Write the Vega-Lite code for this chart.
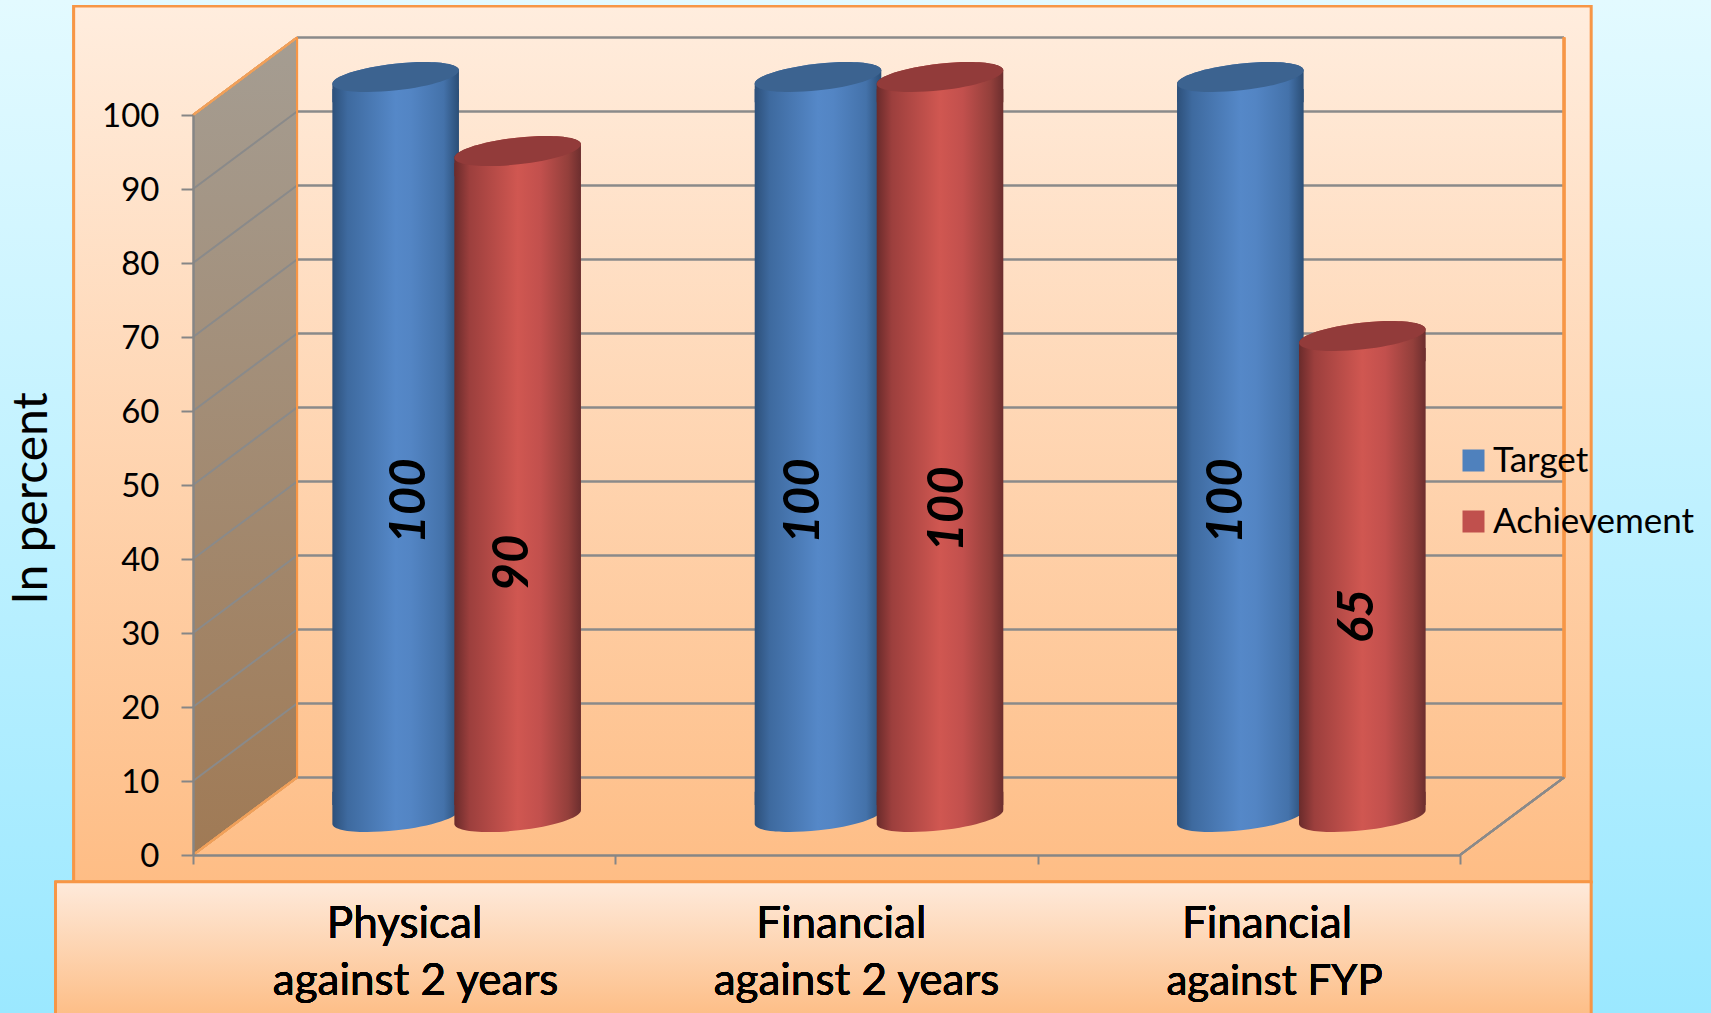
{
"$schema":"https://vega.github.io/schema/vega-lite/v6.json",
"autosize":"none",
"width":1267,"height":740,
"padding":{"left":193,"top":115,"right":251,"bottom":158},
"config":{"view":{"stroke":null},"font":"Lato","text":{"font":"Lato"}},
"datasets":{
"main":[
{"category":"Physical against 2 years","series":"Target","value":100},
{"category":"Physical against 2 years","series":"Achievement","value":90},
{"category":"Financial against 2 years","series":"Target","value":100},
{"category":"Financial against 2 years","series":"Achievement","value":100},
{"category":"Financial against FYP","series":"Target","value":100},
{"category":"Financial against FYP","series":"Achievement","value":65}
],
"levels":[{"level":0},{"level":10},{"level":20},{"level":30},{"level":40},{"level":50},{"level":60},{"level":70},{"level":80},{"level":90},{"level":100}],
"wall":[{"depth":0,"top":100,"bottom":0},{"depth":0.2463,"top":110.47,"bottom":10.47}]
},
"resolve":{"scale":{"x":"independent"},"axis":{"x":"independent"}},
"data":{"name":"main"},
"layer":[
{"layer":[
{"mark":{"type":"rect","fill":{"gradient":"linear","x1":0,"y1":0,"x2":0,"y2":1,"stops":[{"offset":0,"color":"#E3FAFF"},{"offset":1,"color":"#9BE8FF"}]}},
 "encoding":{
 "x":{"datum":-0.457,"type":"quantitative","scale":{"domain":[0,3],"nice":false,"zero":false},"axis":{"values":[0,1,2,3],"labels":false,"title":null,"grid":false,"domainColor":"#868686","domainWidth":2.5,"tickColor":"#868686","tickWidth":2,"tickSize":9,"zindex":1}},
 "x2":{"datum":3.594},
 "y":{"datum":115.54,"type":"quantitative","scale":{"domain":[0,100],"nice":false,"zero":false},"axis":{"values":[0,10,20,30,40,50,60,70,80,90,100],"grid":false,"title":"In percent","titleFont":"Lato","titleFontSize":48,"titleFontWeight":"normal","titleColor":"#000000","titleX":-161,"titleY":383,"titleAngle":270,"titleAlign":"center","titleBaseline":"middle","labelFont":"Lato","labelFontSize":33,"labelColor":"#000000","labelPadding":22,"labelOffset":1,"domainColor":"#868686","domainWidth":2.5,"tickColor":"#868686","tickWidth":2,"tickSize":12,"zindex":1}},
 "y2":{"datum":-21.35}}},
{"mark":{"type":"rect","stroke":"#F79646","strokeWidth":2.5,"fill":{"gradient":"linear","x1":0,"y1":0,"x2":0,"y2":1,"stops":[{"offset":0,"color":"#FFEDDE"},{"offset":1,"color":"#FEBD85"}]}},
 "encoding":{"x":{"datum":-0.282,"type":"quantitative"},"x2":{"datum":3.31},"y":{"datum":114.7,"type":"quantitative"},"y2":{"datum":-3.65}}},
{"mark":{"type":"rect","stroke":"#F79646","strokeWidth":2.5,"fill":{"gradient":"linear","x1":0,"y1":0,"x2":0,"y2":1,"stops":[{"offset":0,"color":"#FEEADB"},{"offset":1,"color":"#FDBE87"}]}},
 "encoding":{"x":{"datum":-0.325,"type":"quantitative"},"x2":{"datum":3.31},"y":{"datum":-3.65,"type":"quantitative"},"y2":{"datum":-21.6}}},
{"data":{"name":"wall"},"mark":{"type":"area","fill":{"gradient":"linear","x1":0,"y1":0,"x2":0,"y2":1,"stops":[{"offset":0,"color":"#A59D92"},{"offset":1,"color":"#A07A55"}]}},
 "encoding":{"x":{"field":"depth","type":"quantitative"},"y":{"field":"top","type":"quantitative"},"y2":{"field":"bottom"}}},
{"data":{"name":"levels"},"mark":{"type":"rule","stroke":"#8A8A8A","strokeWidth":2.5,"yOffset":-77.5},
 "encoding":{"x":{"datum":0.2463,"type":"quantitative"},"x2":{"datum":3.2463},"y":{"field":"level","type":"quantitative"}}},
{"data":{"name":"levels"},"mark":{"type":"rule","stroke":"#8A8A8A","strokeWidth":2,"y2Offset":-77.5},
 "encoding":{"x":{"datum":0,"type":"quantitative"},"x2":{"datum":0.2463},"y":{"field":"level","type":"quantitative"},"y2":{"field":"level"}}},
{"mark":{"type":"rule","stroke":"#F0A05A","strokeWidth":2},"encoding":{"x":{"datum":0,"type":"quantitative"},"x2":{"datum":0.2463},"y":{"datum":100,"type":"quantitative"},"y2":{"datum":110.47}}},
{"mark":{"type":"rule","stroke":"#F0A05A","strokeWidth":2},"encoding":{"x":{"datum":0,"type":"quantitative"},"x2":{"datum":0.2463},"y":{"datum":0,"type":"quantitative"},"y2":{"datum":10.47}}},
{"mark":{"type":"rule","stroke":"#F79646","strokeWidth":2},"encoding":{"x":{"datum":0.2463,"type":"quantitative"},"y":{"datum":10.47,"type":"quantitative"},"y2":{"datum":110.47}}},
{"mark":{"type":"rule","stroke":"#F79646","strokeWidth":2.5},"encoding":{"x":{"datum":3.2463,"type":"quantitative"},"y":{"datum":10.47,"type":"quantitative"},"y2":{"datum":110.47}}},
{"mark":{"type":"rule","stroke":"#8A8A8A","strokeWidth":2},"encoding":{"x":{"datum":3,"type":"quantitative"},"x2":{"datum":3.2463},"y":{"datum":0,"type":"quantitative"},"y2":{"datum":10.47}}},
{"mark":{"type":"text","font":"Lato","fontSize":44,"color":"#000000","baseline":"middle"},"encoding":{"x":{"datum":0.501,"type":"quantitative"},"y":{"datum":-9.4,"type":"quantitative"},"text":{"value":"Physical"}}},
{"mark":{"type":"text","font":"Lato","fontSize":44,"color":"#000000","baseline":"middle"},"encoding":{"x":{"datum":0.527,"type":"quantitative"},"y":{"datum":-17.2,"type":"quantitative"},"text":{"value":"against 2 years"}}},
{"mark":{"type":"text","font":"Lato","fontSize":44,"color":"#000000","baseline":"middle"},"encoding":{"x":{"datum":1.535,"type":"quantitative"},"y":{"datum":-9.4,"type":"quantitative"},"text":{"value":"Financial"}}},
{"mark":{"type":"text","font":"Lato","fontSize":44,"color":"#000000","baseline":"middle"},"encoding":{"x":{"datum":1.571,"type":"quantitative"},"y":{"datum":-17.2,"type":"quantitative"},"text":{"value":"against 2 years"}}},
{"mark":{"type":"text","font":"Lato","fontSize":44,"color":"#000000","baseline":"middle"},"encoding":{"x":{"datum":2.543,"type":"quantitative"},"y":{"datum":-9.4,"type":"quantitative"},"text":{"value":"Financial"}}},
{"mark":{"type":"text","font":"Lato","fontSize":42,"color":"#000000","baseline":"middle"},"encoding":{"x":{"datum":2.561,"type":"quantitative"},"y":{"datum":-17.2,"type":"quantitative"},"text":{"value":"against FYP"}}}
]},
{"layer":[
{"mark":{"type":"bar","width":10,"xOffset":-8,"yOffset":-38,"y2Offset":-38},
 "encoding":{"x":{"field":"category","type":"nominal","sort":null,"axis":null,"scale":{"domain":["Physical against 2 years","Financial against 2 years","Financial against FYP"],"paddingInner":0,"paddingOuter":0}},
 "y":{"field":"value","type":"quantitative"},"y2":{"datum":0},
 "fill":{"field":"series","type":"nominal","scale":{"domain":["Target","Achievement"],"range":["#4F81BD","#C0504D"]},
 "legend":{"orient":"none","legendX":1263,"legendY":328,"title":null,"symbolType":"square","symbolSize":484,"symbolStrokeWidth":0,"labelFont":"Lato","labelFontSize":35,"labelLimit":400,"labelColor":"#000000","labelOffset":2,"rowPadding":25}}}},
{"transform":[{"filter":"datum.series==='Target'"}],"layer":[
 {"mark":{"type":"bar","width":126.6,"xOffset":-8.5,"yOffset":-26,"y2Offset":-50,"fill":{"gradient":"linear","x1":0,"y1":0,"x2":1,"y2":0,"stops":[{"offset":0,"color":"#2D507A"},{"offset":0.12,"color":"#3E6A9F"},{"offset":0.5,"color":"#5588C8"},{"offset":0.62,"color":"#5385C4"},{"offset":0.88,"color":"#4472AA"},{"offset":1,"color":"#2B4E76"}]}},
  "encoding":{"x":{"field":"category","type":"nominal","axis":null},"y":{"field":"value","type":"quantitative"},"y2":{"datum":0}}},
 {"mark":{"type":"point","filled":true,"opacity":1,"strokeWidth":0,"size":16027,"xOffset":-8.5,"yOffset":-38,"shape":"M -1 0.11 A 1 0.21 -6.4 0 1 1 -0.11 L 1 0.4 L -1 0.4 Z","fill":{"gradient":"linear","x1":0,"y1":0,"x2":1,"y2":0,"stops":[{"offset":0,"color":"#2D507A"},{"offset":0.12,"color":"#3E6A9F"},{"offset":0.5,"color":"#5588C8"},{"offset":0.62,"color":"#5385C4"},{"offset":0.88,"color":"#4472AA"},{"offset":1,"color":"#2B4E76"}]}},
  "encoding":{"x":{"field":"category","type":"nominal","axis":null},"y":{"field":"value","type":"quantitative"}}},
 {"mark":{"type":"point","filled":true,"opacity":1,"strokeWidth":0,"size":16027,"xOffset":-8.5,"yOffset":-38,"shape":"M -1 -0.4 L 1 -0.4 L 1 -0.11 A 1 0.21 -6.4 0 1 -1 0.11 Z","fill":{"gradient":"linear","x1":0,"y1":0,"x2":1,"y2":0,"stops":[{"offset":0,"color":"#2D507A"},{"offset":0.12,"color":"#3E6A9F"},{"offset":0.5,"color":"#5588C8"},{"offset":0.62,"color":"#5385C4"},{"offset":0.88,"color":"#4472AA"},{"offset":1,"color":"#2B4E76"}]}},
  "encoding":{"x":{"field":"category","type":"nominal","axis":null},"y":{"datum":0,"type":"quantitative"}}},
 {"mark":{"type":"point","filled":true,"opacity":1,"strokeWidth":0,"size":16027,"xOffset":-8.5,"yOffset":-38,"fill":"#3C6390","shape":"M -1 0.11 A 1 0.21 -6.4 1 1 1 -0.11 A 1 0.21 -6.4 1 1 -1 0.11 Z"},
  "encoding":{"x":{"field":"category","type":"nominal","axis":null},"y":{"field":"value","type":"quantitative"}}}
]},
{"transform":[{"filter":"datum.series==='Achievement'"}],"layer":[
 {"mark":{"type":"bar","width":126.6,"xOffset":113.5,"yOffset":-26,"y2Offset":-50,"fill":{"gradient":"linear","x1":0,"y1":0,"x2":1,"y2":0,"stops":[{"offset":0,"color":"#6A2B2B"},{"offset":0.12,"color":"#9C3F3D"},{"offset":0.5,"color":"#D05751"},{"offset":0.68,"color":"#C2504D"},{"offset":0.9,"color":"#933F3B"},{"offset":1,"color":"#6C2E2E"}]}},
  "encoding":{"x":{"field":"category","type":"nominal","axis":null},"y":{"field":"value","type":"quantitative"},"y2":{"datum":0}}},
 {"mark":{"type":"point","filled":true,"opacity":1,"strokeWidth":0,"size":16027,"xOffset":113.5,"yOffset":-38,"shape":"M -1 0.11 A 1 0.21 -6.4 0 1 1 -0.11 L 1 0.4 L -1 0.4 Z","fill":{"gradient":"linear","x1":0,"y1":0,"x2":1,"y2":0,"stops":[{"offset":0,"color":"#6A2B2B"},{"offset":0.12,"color":"#9C3F3D"},{"offset":0.5,"color":"#D05751"},{"offset":0.68,"color":"#C2504D"},{"offset":0.9,"color":"#933F3B"},{"offset":1,"color":"#6C2E2E"}]}},
  "encoding":{"x":{"field":"category","type":"nominal","axis":null},"y":{"field":"value","type":"quantitative"}}},
 {"mark":{"type":"point","filled":true,"opacity":1,"strokeWidth":0,"size":16027,"xOffset":113.5,"yOffset":-38,"shape":"M -1 -0.4 L 1 -0.4 L 1 -0.11 A 1 0.21 -6.4 0 1 -1 0.11 Z","fill":{"gradient":"linear","x1":0,"y1":0,"x2":1,"y2":0,"stops":[{"offset":0,"color":"#6A2B2B"},{"offset":0.12,"color":"#9C3F3D"},{"offset":0.5,"color":"#D05751"},{"offset":0.68,"color":"#C2504D"},{"offset":0.9,"color":"#933F3B"},{"offset":1,"color":"#6C2E2E"}]}},
  "encoding":{"x":{"field":"category","type":"nominal","axis":null},"y":{"datum":0,"type":"quantitative"}}},
 {"mark":{"type":"point","filled":true,"opacity":1,"strokeWidth":0,"size":16027,"xOffset":113.5,"yOffset":-38,"fill":"#923B3A","shape":"M -1 0.11 A 1 0.21 -6.4 1 1 1 -0.11 A 1 0.21 -6.4 1 1 -1 0.11 Z"},
  "encoding":{"x":{"field":"category","type":"nominal","axis":null},"y":{"field":"value","type":"quantitative"}}}
]},
{"transform":[{"filter":"datum.category==='Physical against 2 years'&&datum.series==='Target'"}],"mark":{"type":"text","font":"Lato","fontSize":49,"fontWeight":"bold","fontStyle":"italic","angle":270,"color":"#000000","xOffset":6,"yOffset":386,"baseline":"middle"},"encoding":{"x":{"field":"category","type":"nominal","axis":null},"y":{"field":"value","type":"quantitative"},"text":{"field":"value"}}},
{"transform":[{"filter":"datum.category==='Physical against 2 years'&&datum.series==='Achievement'"}],"mark":{"type":"text","font":"Lato","fontSize":49,"fontWeight":"bold","fontStyle":"italic","angle":270,"color":"#000000","xOffset":109,"yOffset":374,"baseline":"middle"},"encoding":{"x":{"field":"category","type":"nominal","axis":null},"y":{"field":"value","type":"quantitative"},"text":{"field":"value"}}},
{"transform":[{"filter":"datum.category==='Financial against 2 years'&&datum.series==='Target'"}],"mark":{"type":"text","font":"Lato","fontSize":49,"fontWeight":"bold","fontStyle":"italic","angle":270,"color":"#000000","xOffset":-23,"yOffset":386,"baseline":"middle"},"encoding":{"x":{"field":"category","type":"nominal","axis":null},"y":{"field":"value","type":"quantitative"},"text":{"field":"value"}}},
{"transform":[{"filter":"datum.category==='Financial against 2 years'&&datum.series==='Achievement'"}],"mark":{"type":"text","font":"Lato","fontSize":49,"fontWeight":"bold","fontStyle":"italic","angle":270,"color":"#000000","xOffset":121,"yOffset":394,"baseline":"middle"},"encoding":{"x":{"field":"category","type":"nominal","axis":null},"y":{"field":"value","type":"quantitative"},"text":{"field":"value"}}},
{"transform":[{"filter":"datum.category==='Financial against FYP'&&datum.series==='Target'"}],"mark":{"type":"text","font":"Lato","fontSize":49,"fontWeight":"bold","fontStyle":"italic","angle":270,"color":"#000000","xOffset":-22,"yOffset":386,"baseline":"middle"},"encoding":{"x":{"field":"category","type":"nominal","axis":null},"y":{"field":"value","type":"quantitative"},"text":{"field":"value"}}},
{"transform":[{"filter":"datum.category==='Financial against FYP'&&datum.series==='Achievement'"}],"mark":{"type":"text","font":"Lato","fontSize":49,"fontWeight":"bold","fontStyle":"italic","angle":270,"color":"#000000","xOffset":109,"yOffset":242,"baseline":"middle"},"encoding":{"x":{"field":"category","type":"nominal","axis":null},"y":{"field":"value","type":"quantitative"},"text":{"field":"value"}}}
]}
]
}
